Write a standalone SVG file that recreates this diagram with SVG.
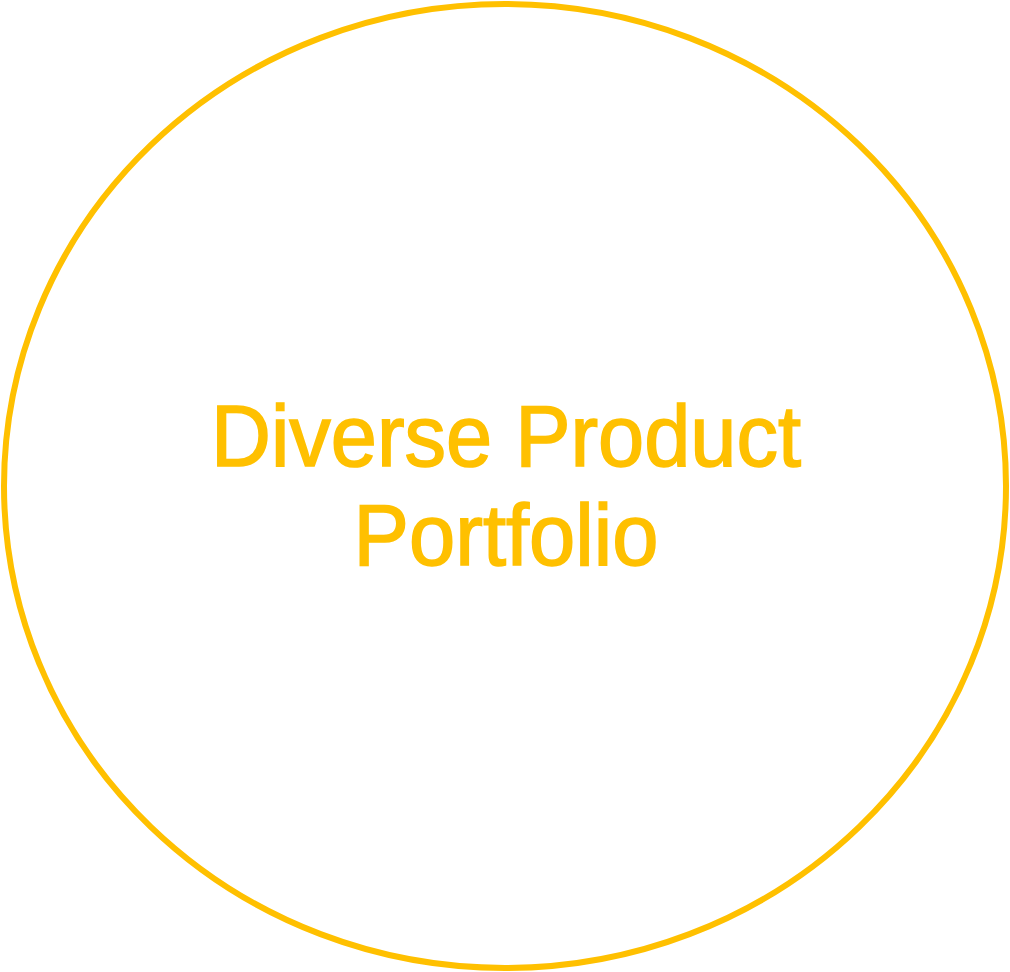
<svg xmlns="http://www.w3.org/2000/svg" width="1010" height="972" viewBox="0 0 1010 972">
<style>
.node{fill:#FFFFFF;stroke:#FFC000;stroke-width:6}
.lbl{font-family:"Liberation Sans",Arial,sans-serif;font-size:88px;fill:#FFC000;stroke:#FFC000;stroke-width:1.6;text-anchor:middle}
</style>
<rect width="1010" height="972" fill="#FFFFFF"/>
<g id="connectors"></g>
<g id="node-portfolio">
<ellipse class="node" cx="505" cy="486" rx="501" ry="482"/>
<text class="lbl" x="506" y="466" textLength="590" lengthAdjust="spacingAndGlyphs">Diverse Product</text>
<text class="lbl" x="506" y="565" textLength="305" lengthAdjust="spacingAndGlyphs">Portfolio</text>
</g>
</svg>
